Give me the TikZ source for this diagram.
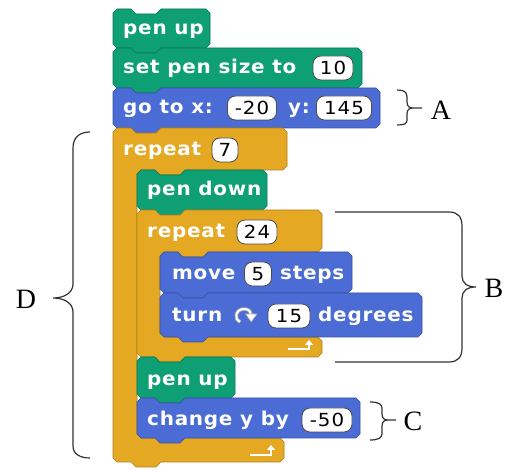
\documentclass[tikz,border=0pt]{standalone}
\usepackage{fontspec}
\setmainfont{Liberation Serif}
\newfontfamily\blkfont{DejaVu Sans Bold}[FakeStretch=1.05,LetterSpace=4]
\newfontfamily\numfont{DejaVu Sans}[FakeStretch=1.1,LetterSpace=6]
\usetikzlibrary{arrows.meta}
\definecolor{pengreen}{HTML}{0E9F74}
\definecolor{motblue}{HTML}{4A6CD4}
\definecolor{ctlorange}{HTML}{E5A823}
\definecolor{bracecol}{HTML}{333333}

% stack block: color, L, T, R, B
\newcommand\stackblk[5]{%
  \filldraw[fill=#1, draw=#1!75!black, line width=0.6pt]
  (#2,#3+4) -- (#2+4,#3) -- (#2+18,#3) -- (#2+23,#3+5) -- (#2+43,#3+5) -- (#2+48,#3)
  -- (#4-4,#3) -- (#4,#3+4) -- (#4,#5-4) -- (#4-4,#5)
  -- (#2+48,#5) -- (#2+43,#5+5) -- (#2+23,#5+5) -- (#2+18,#5) -- (#2+4,#5) -- (#2,#5-4) -- cycle;}

% C block: color, L, T, R1, T1, arm, B0, R2, B
\newcommand\cblk[9]{%
  \filldraw[fill=#1, draw=#1!75!black, line width=0.6pt]
  (#2,#3+4) -- (#2+4,#3) -- (#2+18,#3) -- (#2+23,#3+5) -- (#2+43,#3+5) -- (#2+48,#3)
  -- (#4-4,#3) -- (#4,#3+4) -- (#4,#5-4) -- (#4-4,#5)
  -- (#2+#6+48,#5) -- (#2+#6+43,#5+5) -- (#2+#6+23,#5+5) -- (#2+#6+18,#5) -- (#2+#6+4,#5) -- (#2+#6,#5+4)
  -- (#2+#6,#7-4) -- (#2+#6+4,#7) -- (#8-4,#7) -- (#8,#7+4) -- (#8,#9-4) -- (#8-4,#9)
  -- (#2+48,#9) -- (#2+43,#9+5) -- (#2+23,#9+5) -- (#2+18,#9) -- (#2+4,#9) -- (#2,#9-4) -- cycle;}

\begin{document}
\begin{tikzpicture}[x=1pt,y=-1pt,
  lbl/.style={text=white, font={\fontsize{19}{21}\selectfont\blkfont}, anchor=west,
    inner sep=0pt, text height=13.5pt, text depth=2.5pt},
  slot/.style={fill=white, draw=gray!60!black, line width=0.8pt, rounded corners=8pt,
    minimum height=24pt, inner sep=0pt, text=black,
    font={\fontsize{18}{20}\selectfont\numfont}, text height=13pt, text depth=0pt},
  loop/.style={white, line width=2.6pt, -{Triangle[length=5pt,width=8pt]}},
  brace/.style={bracecol, line width=1.2pt},
  tag/.style={font={\fontsize{28}{30}\selectfont}, inner sep=0pt, text=black}]
\useasboundingbox (0,0) rectangle (507,470);

% blocks
\stackblk{pengreen}{113}{9}{210}{48}
\stackblk{pengreen}{113}{48}{362}{88}
\stackblk{motblue}{113}{88}{380}{128}
\cblk{ctlorange}{113}{128}{287}{170}{24}{438}{284}{462}
\stackblk{pengreen}{137}{170}{267}{210}
\cblk{ctlorange}{137}{210}{322}{252}{23}{337}{322}{357}
\stackblk{motblue}{160}{252}{352}{293}
\stackblk{motblue}{160}{293}{422}{337}
\stackblk{pengreen}{137}{357}{235}{398}
\stackblk{motblue}{137}{398}{360}{438}

% texts
\node[lbl] (t1) at (123,29) {pen up};
\node[lbl] (t2) at (123,68) {set pen size to};
\node[slot, minimum width=40pt] (s2) at (333,68) {10};
\node[lbl] (t3) at (123,108) {go to x:};
\node[slot, minimum width=49pt] (s3a) at (252,108) {-20};
\node[lbl] (t3b) at (288,108) {y:};
\node[slot, minimum width=55pt] (s3b) at (344,108) {145};
\node[lbl] (t4) at (123,150) {repeat};
\node[slot, minimum width=26pt] (s4) at (225,150) {7};
\node[lbl] (t5) at (147,190) {pen down};
\node[lbl] (t6) at (147,232) {repeat};
\node[slot, minimum width=40pt] (s6) at (257,232) {24};
\node[lbl] (t7) at (172,274) {move};
\node[slot, minimum width=27pt] (s7) at (258,274) {5};
\node[lbl] (t7b) at (280,274) {steps};
\node[lbl] (t8) at (172,316) {turn};
\node[slot, minimum width=42pt] (s8) at (289,316) {15};
\node[lbl] (t8b) at (318,316) {degrees};
\node[lbl] (t9) at (147,380) {pen up};
\node[lbl] (t10) at (147,420) {change y by};
\node[slot, minimum width=50pt] (s10) at (327,420) {-50};

% turn icon
\draw[gray!70, line width=3.6pt] (240,322) .. controls (234,320) and (235,309) .. (244,309) .. controls (249,309) and (251,312) .. (251,314);
\draw[white, line width=2pt] (240,322) .. controls (234,320) and (235,309) .. (244,309) .. controls (249,309) and (251,312) .. (251,315);
\filldraw[fill=white, draw=gray!70, line width=0.6pt] (245.5,314) -- (257,314) -- (251.2,322) -- cycle;

% loop arrows
\coordinate (la1) at (288,349);
\coordinate (la2) at (309,349);
\coordinate (la3) at (309,340);
\draw[loop] (la1) -- (la2) -- (la3);
\coordinate (lb1) at (250,455);
\coordinate (lb2) at (271,455);
\coordinate (lb3) at (271,445);
\draw[loop] (lb1) -- (lb2) -- (lb3);

% brace A
\draw[brace] (397,90) .. controls (404,90) and (407,92) .. (407,97) -- (407,102)
  .. controls (407,106) and (409,108) .. (413,108) -- (422,108)
  (413,108) .. controls (409,108) and (407,110) .. (407,114) -- (407,120)
  .. controls (407,124) and (404,125) .. (397,125);
\node[tag] (A) at (441,110) {A};

% brace B
\draw[brace] (335,212) -- (449,212) .. controls (458,212) and (462,217) .. (462,226) -- (462,276)
  .. controls (462,283) and (467,287) .. (476,287)
  .. controls (467,287) and (462,291) .. (462,298) -- (462,348)
  .. controls (462,357) and (458,362) .. (449,362) -- (335,362);
\node[tag] (B) at (494,288) {B};

% brace C
\draw[brace] (370,402) .. controls (378,402) and (382,404) .. (382,408) -- (382,414)
  .. controls (382,418) and (384,420) .. (388,420) -- (396,420)
  (388,420) .. controls (384,420) and (382,422) .. (382,426) -- (382,434)
  .. controls (382,438) and (378,440) .. (370,440);
\node[tag] (C) at (413,421) {C};

% brace D
\draw[brace] (90,132) .. controls (80,132) and (73,137) .. (73,148) -- (73,284)
  .. controls (73,293) and (64,298) .. (53,298)
  .. controls (64,298) and (73,303) .. (73,312) -- (73,446)
  .. controls (73,454) and (80,458) .. (90,458);
\node[tag] (D) at (26,299) {D};
\end{tikzpicture}
\end{document}
